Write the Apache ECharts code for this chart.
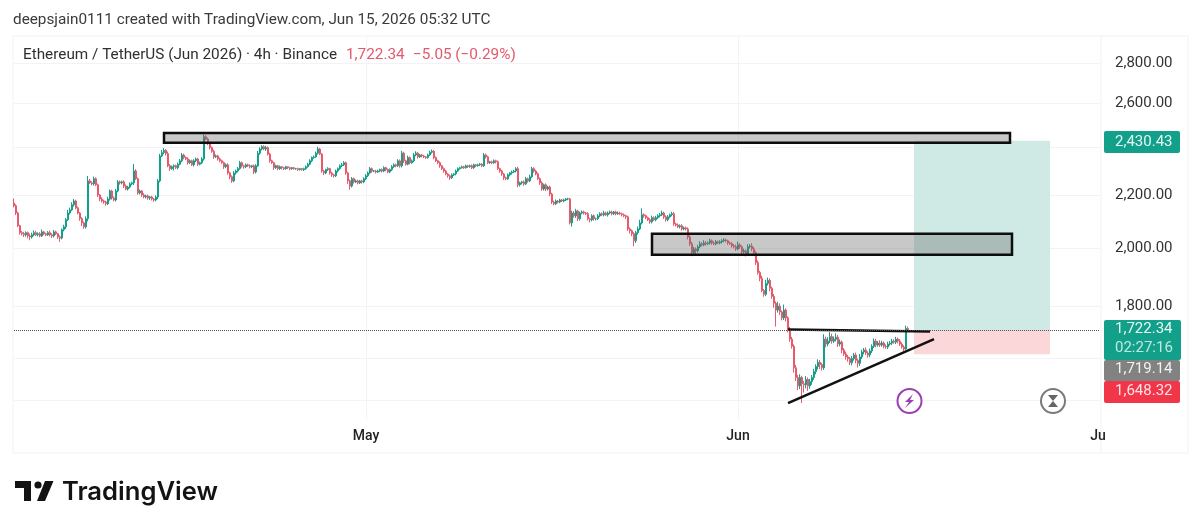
<!DOCTYPE html>
<html><head><meta charset="utf-8">
<style>html,body{margin:0;padding:0;background:#fff}#c{width:1200px;height:530px}</style>
<script src="https://cdn.jsdelivr.net/npm/echarts@6/dist/echarts.min.js"></script>
</head><body><div id="c"></div>
<script>
// 4h closes (one row = 10 candles)
const closes = [
2159,2131,2082,2056,2052,2048,2056,2044,2040,2048,
2056,2048,2052,2044,2059,2052,2048,2056,2048,2044,
2059,2052,2040,2036,2067,2078,2105,2131,2143,2163,
2178,2151,2131,2109,2093,2078,2109,2259,2251,2247,
2268,2243,2202,2186,2178,2174,2167,2186,2218,2190,
2182,2218,2255,2251,2255,2238,2226,2234,2247,2251,
2300,2268,2210,2218,2202,2194,2198,2190,2194,2186,
2182,2194,2259,2364,2378,2388,2374,2322,2310,2318,
2322,2314,2329,2343,2368,2357,2351,2335,2343,2326,
2343,2351,2329,2335,2351,2448,2438,2417,2400,2384,
2360,2364,2351,2343,2335,2318,2326,2292,2276,2259,
2292,2300,2310,2335,2322,2318,2326,2322,2318,2322,
2296,2322,2376,2394,2404,2394,2400,2372,2343,2335,
2314,2322,2310,2318,2314,2310,2318,2314,2310,2314,
2310,2310,2306,2310,2306,2310,2318,2329,2343,2357,
2360,2376,2394,2372,2300,2292,2306,2310,2292,2284,
2280,2300,2310,2322,2326,2335,2292,2259,2238,2268,
2255,2259,2251,2259,2255,2268,2280,2292,2310,2300,
2300,2296,2300,2306,2300,2314,2306,2296,2306,2318,
2326,2322,2343,2322,2376,2343,2329,2357,2335,2343,
2368,2376,2360,2368,2364,2360,2357,2368,2380,2384,
2357,2343,2335,2322,2310,2300,2288,2280,2272,2284,
2288,2300,2310,2314,2318,2314,2322,2318,2322,2314,
2326,2322,2326,2329,2322,2368,2360,2335,2339,2335,
2343,2339,2310,2300,2288,2272,2268,2284,2292,2296,
2300,2310,2243,2251,2255,2247,2268,2259,2276,2310,
2300,2288,2268,2251,2226,2243,2226,2234,2206,2174,
2167,2178,2174,2182,2178,2182,2186,2186,2093,2131,
2120,2139,2109,2131,2135,2131,2128,2109,2105,2120,
2109,2109,2120,2128,2124,2131,2124,2131,2135,2128,
2135,2128,2131,2128,2124,2120,2116,2070,2063,2052,
2026,2056,2070,2093,2124,2120,2113,2105,2097,2113,
2105,2113,2120,2124,2131,2116,2105,2116,2124,2128,
2089,2085,2078,2082,2070,2074,2070,2040,2015,1982,
1996,1989,2004,2015,2011,2018,2015,2018,2026,2018,
2015,2022,2018,2022,2026,2029,2026,2018,2015,2007,
2004,1996,2011,2004,1985,1989,1978,2004,2007,1996,
1982,1947,1912,1892,1851,1838,1875,1885,1858,1831,
1808,1786,1799,1780,1761,1786,1761,1724,1694,1672,
1608,1580,1556,1580,1562,1559,1574,1556,1568,1580,
1597,1612,1624,1618,1608,1694,1679,1688,1702,1688,
1694,1700,1679,1685,1661,1649,1640,1635,1623,1635,
1646,1630,1621,1640,1655,1661,1652,1646,1658,1672,
1688,1676,1682,1676,1682,1672,1670,1679,1682,1688,
1685,1694,1688,1679,1670,1664,1727.39,1722.34
];
const firstOpen = 2170;
// wick lengths above / below the body, in dollars
const wickUp = [
18,6,5,4,6,7,5,4,9,8,
8,7,5,6,9,4,4,6,8,6,
7,5,3,6,5,8,7,12,9,10,
8,5,5,4,6,5,9,20,8,6,
9,6,5,4,7,5,5,9,6,5,
6,8,7,6,5,7,6,5,6,5,
30,8,5,6,4,7,5,6,4,5,
4,6,8,9,12,10,6,9,7,5,
6,5,7,8,9,6,5,7,6,5,
7,6,5,5,8,10,7,6,6,5,
7,6,5,6,5,5,6,7,5,6,
8,6,7,8,5,5,6,5,6,4,
6,7,10,8,7,6,8,5,6,5,
4,5,4,5,3,4,4,3,4,3,
3,3,4,3,3,4,5,6,7,5,
6,7,10,5,4,5,4,6,4,5,
4,6,5,6,8,7,5,5,6,7,
5,6,5,4,5,6,7,6,7,5,
4,5,6,4,5,6,4,5,5,7,
6,5,7,6,10,6,5,8,5,6,
9,8,6,5,4,5,4,6,7,8,
6,5,5,6,4,5,5,4,5,6,
4,6,5,4,5,4,5,4,5,6,
5,4,5,5,4,9,6,5,4,5,
6,5,6,4,5,4,5,6,4,6,
5,6,8,5,4,6,8,5,9,8,
6,5,6,5,7,5,6,5,6,5,
5,6,4,5,4,5,4,5,5,9,
7,8,5,6,6,5,4,6,4,6,
5,4,7,6,5,8,5,6,5,5,
4,5,6,5,4,5,4,5,6,5,
6,7,9,12,25,6,5,4,6,8,
5,7,6,7,9,5,6,7,5,8,
7,5,6,5,6,5,5,6,6,7,
8,6,7,9,6,10,7,6,8,5,
6,7,5,6,6,7,5,4,5,6,
7,8,12,6,5,8,6,9,7,10,
7,6,8,6,9,5,12,10,7,6,
8,6,14,9,5,18,6,5,8,7,
6,8,7,9,5,8,10,6,8,7,
8,6,9,7,5,15,8,12,14,9,
8,12,7,8,5,6,7,6,5,8,
6,7,5,9,7,6,8,5,7,6,
8,7,6,9,7,5,6,7,6,7,
6,7,5,6,5,5,9,6
];
const wickDown = [
6,8,5,7,6,8,7,9,12,6,
5,4,6,5,4,5,5,4,6,8,
6,5,7,14,5,6,8,5,6,5,
7,6,5,8,12,7,6,10,5,6,
7,5,8,9,6,7,8,5,6,7,
5,6,5,7,6,8,5,6,5,6,
9,5,7,6,8,5,6,7,8,6,
7,5,9,6,5,7,8,6,9,5,
16,6,7,5,6,7,5,8,6,5,
7,6,8,5,6,7,5,6,8,6,
8,5,7,6,5,9,6,7,10,8,
5,7,6,5,7,8,6,5,7,6,
9,6,5,7,6,5,8,6,7,5,
9,5,6,5,7,6,5,6,7,5,
4,5,6,4,5,6,5,4,5,6,
5,4,6,5,7,9,5,6,7,8,
7,5,6,5,6,5,8,12,15,6,
7,5,6,5,7,5,6,5,5,7,
5,6,4,5,6,5,7,5,5,6,
5,6,5,8,7,9,6,5,7,5,
6,5,7,5,6,5,6,5,4,6,
7,5,6,8,6,7,6,8,9,5,
5,6,4,5,4,5,4,5,4,6,
5,6,4,5,6,5,7,6,5,6,
5,7,6,7,8,9,6,5,6,7,
5,6,10,7,6,8,5,7,5,6,
7,6,5,8,7,6,9,6,9,8,
6,5,6,5,4,5,4,5,6,14,
7,8,9,7,5,6,5,7,10,6,
8,7,5,6,5,6,5,7,5,6,
5,6,4,5,6,5,8,7,10,9,
20,8,7,5,6,7,6,5,7,6,
5,6,5,6,5,8,7,6,5,6,
7,6,5,6,7,5,6,9,8,12,
9,14,6,5,6,5,7,5,6,7,
5,6,5,5,6,5,6,7,5,6,
6,7,5,8,10,6,9,7,6,8,
9,8,7,10,6,8,6,7,10,8,
14,53,8,10,8,7,12,9,8,7,
14,10,12,9,54,22,10,14,8,9,
7,8,9,14,8,6,10,7,6,8,
6,7,9,7,10,6,8,9,7,8,
6,9,12,8,6,7,6,8,7,6,
5,7,5,6,5,6,5,6,5,6,
5,6,7,6,5,7,4,6
];
const futureCount = 96;
const startDate = Date.UTC(2026, 3, 1, 16);
const monthLabels = {'05':'May','06':'Jun','07':'Ju'};
const priceTicks = [2800,2600,2200,2000,1800];
const gridPrices = [2800,2600,2400,2200,2000,1800,1637,1515];
const target = 2430.43, entry = 1722.34, stop = 1648.32;
const zoneTop = [2465,2421], zoneMid = [2052,1975];
const zoneTopX = [75,498], zoneMidX = [319,499], posX = [450,518];
const resistance = [[387,1724],[458,1718]];
const support = [[387,1508],[460,1694]];

const categories = [], candles = [];
for (let i = 0; i < closes.length + futureCount; i++) {
  const d = new Date(startDate + i * 4 * 3600000);
  categories.push(d.toISOString().slice(0,16).replace('T',' '));
}
closes.forEach((c,i) => {
  const o = i ? closes[i-1] : firstOpen;
  candles.push([o, c, Math.min(o,c)-wickDown[i], Math.max(o,c)+wickUp[i]]);
});
const isMonth = s => s.endsWith('-01 00:00');
const monthIdx = categories.map((s,i)=>isMonth(s)?i:-1).filter(i=>i>=0 && monthLabels[categories[i].slice(5,7)]!=='Ju');
const fmt = v => v.toLocaleString('en-US',{minimumFractionDigits:2,maximumFractionDigits:2});

const FONT='Roboto';
const txt=(x,y,t,fill,size,extra)=>({type:'text',z:50,style:Object.assign({x,y,text:t,fill,font:`${size}px ${FONT}`,textVerticalAlign:'middle'},extra||{})});
const tag=(x,y,w,h,color)=>({type:'rect',z:49,shape:{x,y,width:w,height:h,r:2},style:{fill:color}});
const frameLine='#f0f2f6';
const ln=(x1,y1,x2,y2)=>({type:'line',z:0,shape:{x1,y1,x2,y2},style:{stroke:frameLine,lineWidth:1}});

const chart = echarts.init(document.getElementById('c'),null,{renderer:'canvas'});
chart.setOption({
  animation:false,
  backgroundColor:'#fff',
  grid:{left:13,top:37,width:1088,height:382,containLabel:false},
  xAxis:{type:'category',data:categories,boundaryGap:true,
    axisLine:{show:false},axisTick:{show:false},splitLine:{show:false},
    axisLabel:{interval:(i,v)=>isMonth(v),margin:10,color:'#222',fontFamily:FONT,fontSize:14,fontWeight:500,
      hideOverlap:false,
      formatter:v=>monthLabels[v.slice(5,7)]||''}},
  yAxis:{type:'log',position:'right',min:1465,max:2935,logBase:10,
    axisLine:{show:false},axisTick:{show:false},splitLine:{show:false},minorTick:{show:false},
    axisLabel:{customValues:priceTicks,margin:14,color:'#333',fontFamily:FONT,fontSize:15,padding:[2,0,0,0],formatter:v=>fmt(Number(v))}},
  series:[
    {type:'line',data:[],z:1,silent:true,markLine:{z:0,silent:true,symbol:'none',animation:false,label:{show:false},
      lineStyle:{color:'#f1f3f7',width:1,type:'solid'},
      data:gridPrices.map(p=>({yAxis:p})).concat(monthIdx.map(i=>({xAxis:i})))}},
    {type:'line',data:[],z:1,silent:true,markArea:{z:1,silent:true,animation:false,label:{show:false},data:[
      [{coord:[posX[0],target],itemStyle:{color:'#cfeae5'}},{coord:[posX[1],entry]}],
      [{coord:[posX[0],entry],itemStyle:{color:'#fbd7d9'}},{coord:[posX[1],stop]}]
    ]}},
    {type:'candlestick',data:candles,z:2,barWidth:1.5,large:false,
      itemStyle:{color:'#12a08a',color0:'#e9596c',borderColor:'#12a08a',borderColor0:'#e9596c',borderWidth:1}},
    {type:'line',data:[],z:3,silent:true,
      markArea:{z:3,silent:true,animation:false,label:{show:false},
        itemStyle:{color:'rgba(110,110,110,0.38)',borderColor:'#0d0d0d',borderWidth:2.5},
        data:[
          [{coord:[zoneTopX[0],zoneTop[0]]},{coord:[zoneTopX[1],zoneTop[1]]}],
          [{coord:[zoneMidX[0],zoneMid[0]]},{coord:[zoneMidX[1],zoneMid[1]]}]
        ]},
      markLine:{z:4,silent:true,symbol:'none',animation:false,label:{show:false},data:[
        [{coord:resistance[0],lineStyle:{color:'#111',width:2.5,type:'solid'}},{coord:resistance[1]}],
        [{coord:support[0],lineStyle:{color:'#111',width:2.5,type:'solid'}},{coord:support[1]}],
        [{coord:[0,entry],lineStyle:{color:'#555',width:1,type:'dotted'}},{coord:[categories.length-1,entry]}]
      ]}}
  ],
  graphic:{elements:[
    ln(13,36,1188,36),ln(13,453,1188,453),ln(13,36,13,453),ln(1188,36,1188,453),ln(1101,36,1101,453),
    txt(13,20,'deepsjain0111 created with TradingView.com, Jun 15, 2026 05:32 UTC','#3a3a3a',15.3),
    txt(23,55,'Ethereum / TetherUS (Jun 2026) · 4h · Binance','#2f2f2f',15.3),
    txt(346,55,'1,722.34','#e2596c',15.3),
    txt(413,55,'−5.05 (−0.29%)','#e2596c',15.3),
    tag(1104,131,76,22,'#12a08a'),txt(1115,142,fmt(target),'#e6f6f3',15),
    tag(1104,320,77,40,'#12a08a'),txt(1115,329,fmt(entry),'#e6f6f3',15),txt(1115,348,'02:27:16','#bfe8e0',15),
    tag(1104,360,76,21,'#828282'),txt(1115,369,'1,719.14','#f1f1f1',15),
    tag(1104,381,76,22,'#f2364a'),txt(1115,391,fmt(stop),'#fde3e5',15),
    // alert icons
    {type:'circle',z:40,shape:{cx:909.5,cy:401,r:12},style:{fill:'#fff',stroke:'#9c3db5',lineWidth:2}},
    {type:'polygon',z:41,shape:{points:[[913,394],[905,402],[909,402],[905,408],[914,400],[910,400]]},style:{fill:'#9c3db5'}},
    {type:'circle',z:40,shape:{cx:1053,cy:401,r:12},style:{fill:'#fff',stroke:'#7a7a7a',lineWidth:2}},
    {type:'polygon',z:41,shape:{points:[[1048,395],[1058,395],[1053,401]]},style:{fill:'#666'}},
    {type:'polygon',z:41,shape:{points:[[1053,401],[1058,407],[1048,407]]},style:{fill:'#666'}},
    // logo
    {type:'polygon',z:40,shape:{points:[[15,481],[31,481],[31,501],[24,501],[24,488],[15,488]]},style:{fill:'#131313'}},
    {type:'circle',z:40,shape:{cx:38,cy:485,r:3.6},style:{fill:'#131313'}},
    {type:'polygon',z:40,shape:{points:[[45,481],[53.5,481],[45,501],[37,501]]},style:{fill:'#131313'}},
    {type:'text',z:40,style:{x:62,y:492,text:'TradingView',fill:'#131313',font:'600 25.6px Inter',textVerticalAlign:'middle'}}
  ]}
});
</script></body></html>
